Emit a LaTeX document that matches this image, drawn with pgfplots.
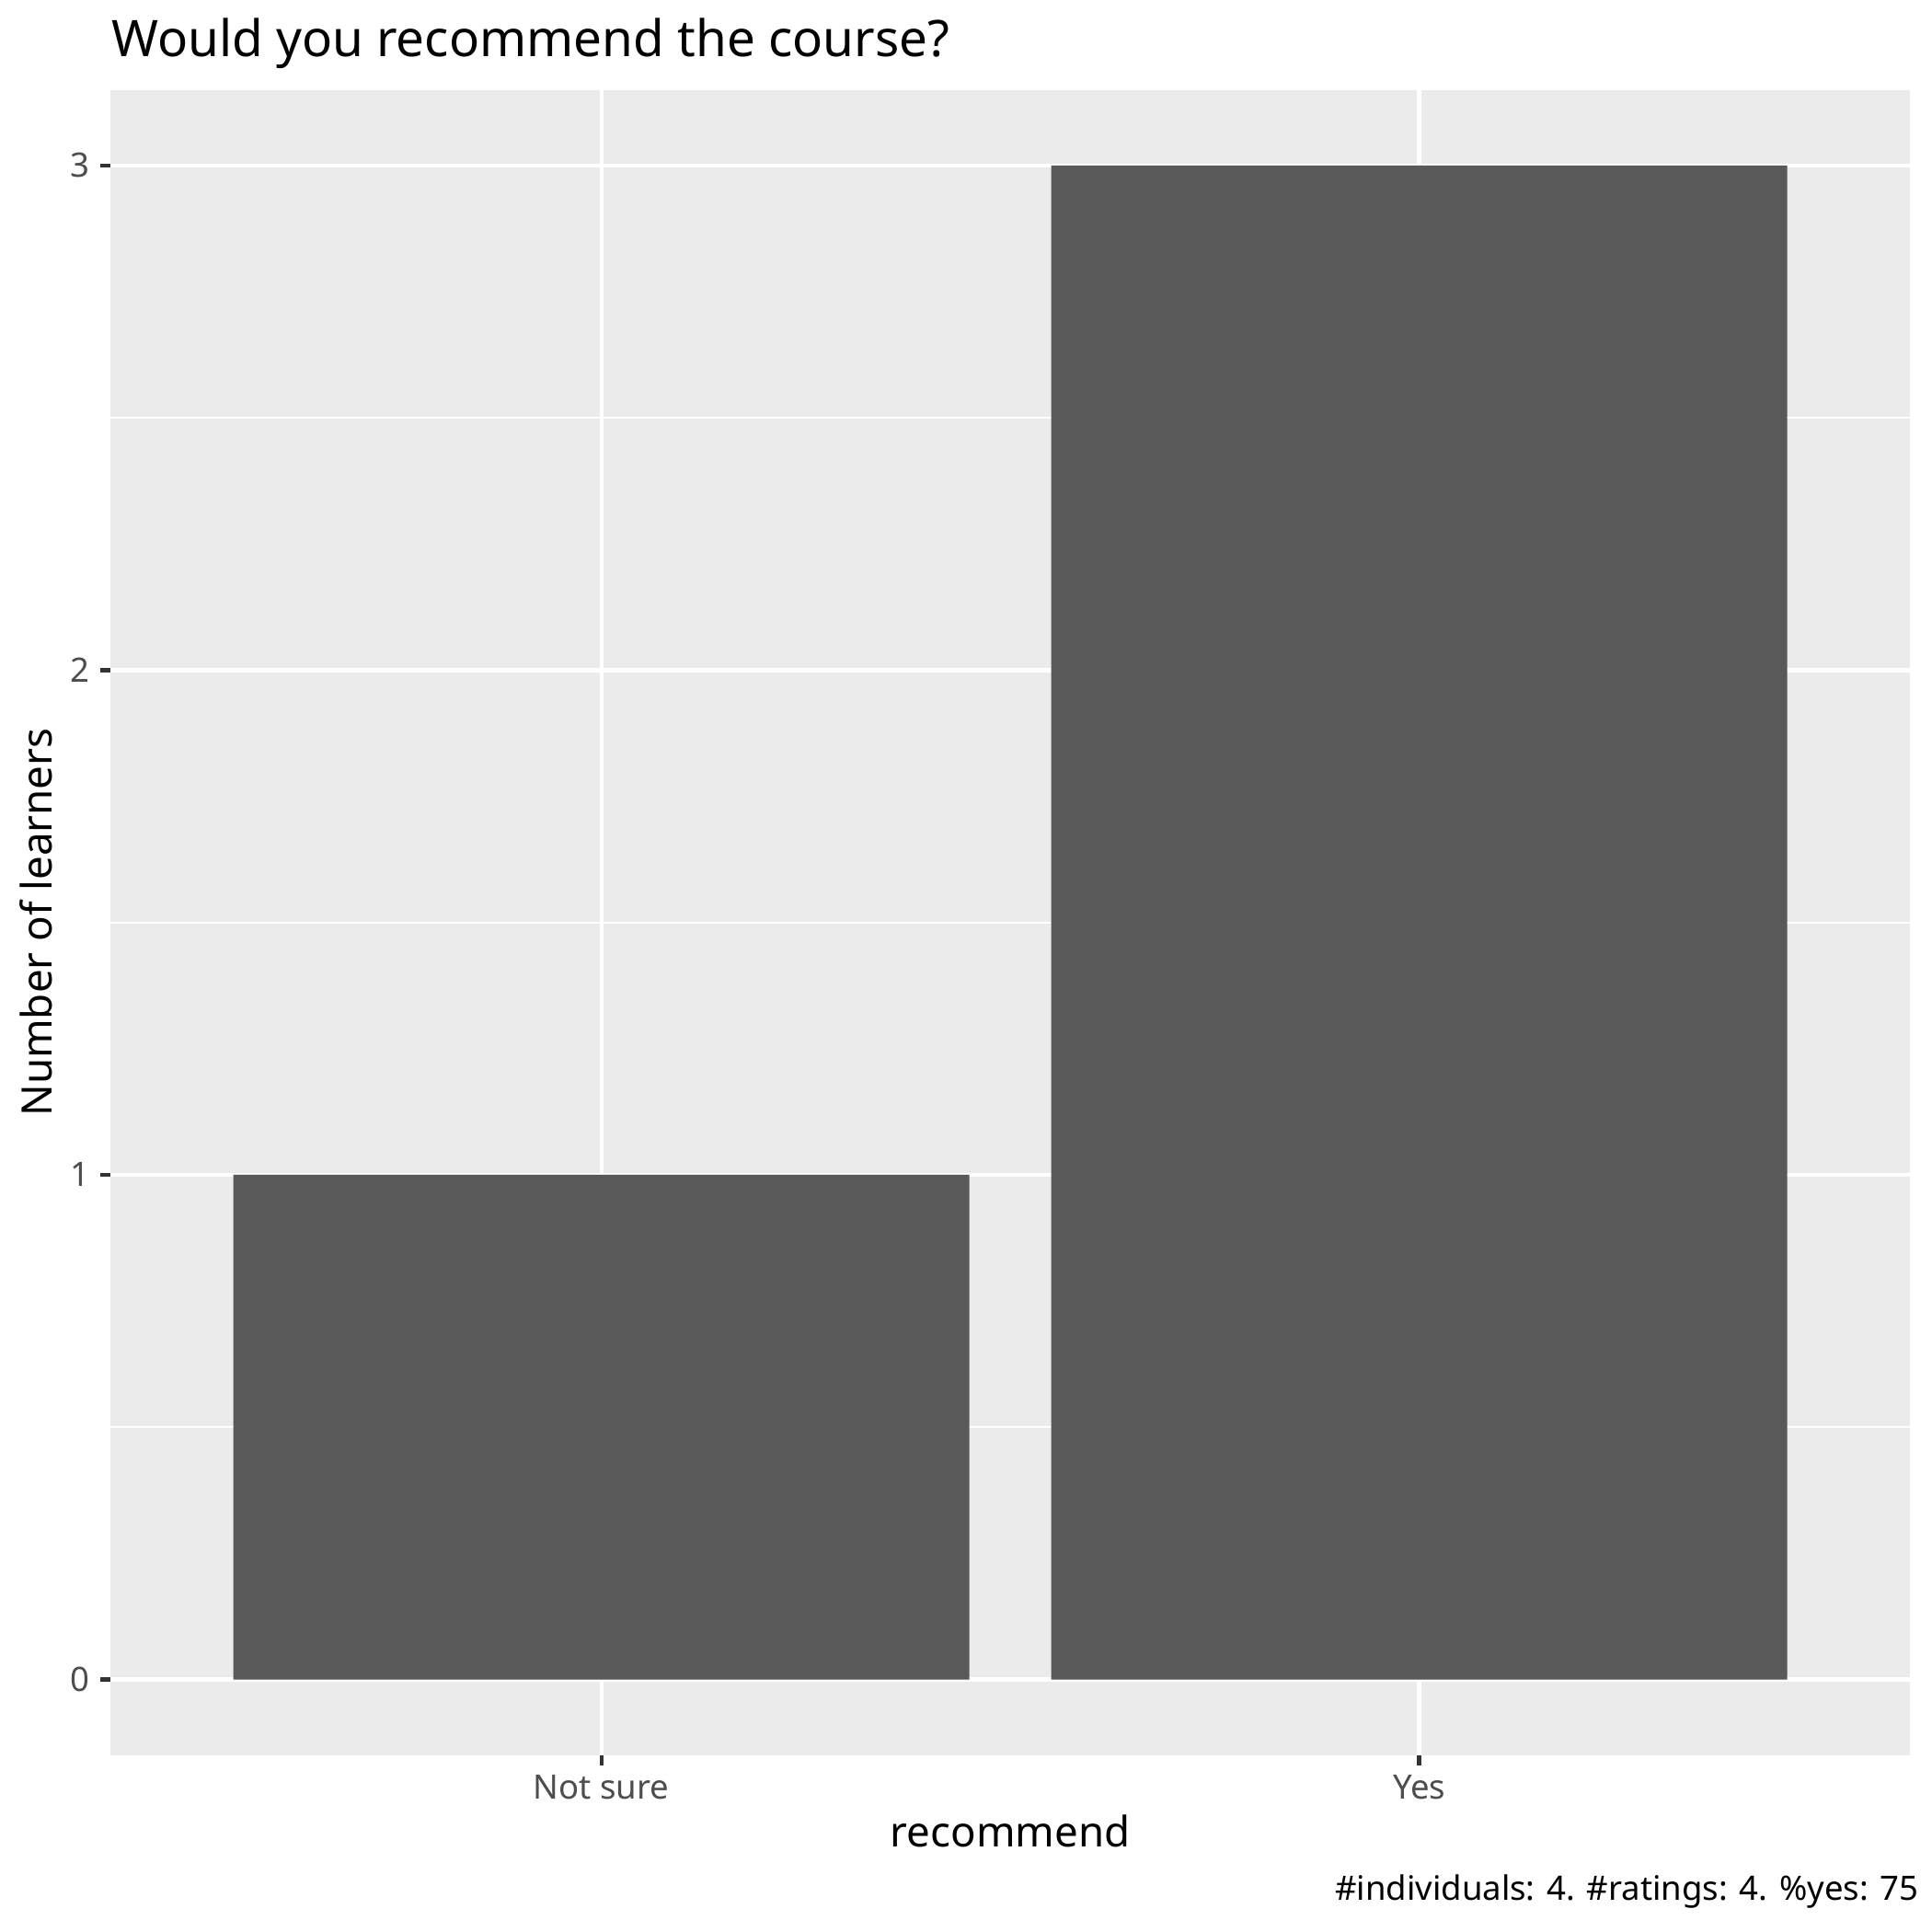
\documentclass[border=0pt]{standalone}
\usepackage{pgfplots}
\pgfplotsset{compat=1.18}
\usepackage{fontspec}
\setmainfont{Noto Sans}
\definecolor{panelbg}{HTML}{EBEBEB}
\definecolor{barfill}{HTML}{595959}
\definecolor{tickcol}{HTML}{333333}
\definecolor{labcol}{HTML}{4D4D4D}
\begin{document}
\begin{tikzpicture}
\useasboundingbox (0,0) rectangle (505.89pt,505.89pt);
\begin{axis}[
  at={(29.0pt,46.3pt)}, anchor=south west,
  scale only axis, width=471.1pt, height=436.1pt,
  xmin=0.4, xmax=2.6, ymin=-0.15, ymax=3.15,
  axis background/.style={fill=panelbg},
  axis line style={draw=none},
  xtick={1,2}, xticklabels={Not sure,Yes},
  ytick={0,1,2,3}, yticklabels={0,1,2,3},
  minor ytick={0.5,1.5,2.5},
  grid=both,
  major grid style={white, line width=1.07pt},
  minor grid style={white, line width=0.53pt},
  tick align=outside,
  major tick length=2.75pt, minor tick length=0pt,
  tick style={tickcol, line width=1.07pt},
  xtick pos=bottom, ytick pos=left,
  yticklabel style={font=\fontsize{8.8}{10}\selectfont, text=labcol, anchor=east, inner sep=0pt, xshift=-2.55pt},
  xticklabel style={font=\fontsize{8.8}{10}\selectfont, text=labcol, anchor=north, inner sep=0pt, yshift=-2.3pt},
  clip=false,
]
\addplot[ybar, bar width=0.9, fill=barfill, draw=none, bar shift=0pt] coordinates {(1,1) (2,3)};
\end{axis}
\node[anchor=base west, inner sep=0pt, font=\fontsize{13.2}{15}\selectfont] at (29.0pt,491.0pt) {Would you recommend the course?};
\node[anchor=base, inner sep=0pt, rotate=90, font=\fontsize{11}{13}\selectfont] at (13.5pt,264.35pt) {Number of learners};
\node[anchor=base, inner sep=0pt, font=\fontsize{11}{13}\selectfont] at (264.55pt,22.4pt) {recommend};
\node[anchor=base east, inner sep=0pt, font=\fontsize{8.8}{10}\selectfont] at (502.6pt,8.2pt) {\#individuals: 4. \#ratings: 4. \%yes: 75};
\end{tikzpicture}
\end{document}
